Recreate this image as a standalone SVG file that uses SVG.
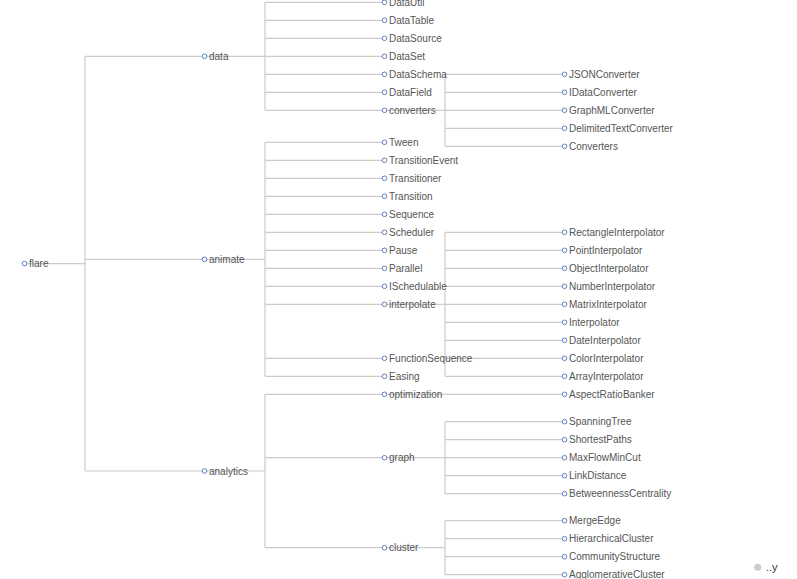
<svg xmlns="http://www.w3.org/2000/svg" width="797" height="579" viewBox="0 0 797 579">
<style>
.e{fill:none;stroke:#ccc;stroke-width:1.2}
.n circle{fill:#fff;stroke:#5b7fc7;stroke-width:1}
.n text{font-family:"Liberation Sans",Arial,sans-serif;font-size:10px;fill:#555;dominant-baseline:central}
.lg text{font-family:"Liberation Sans",Arial,sans-serif;font-size:11px;fill:#333;dominant-baseline:central}
</style>
<rect width="797" height="579" fill="#fff"/>
<g id="connectors">
<path class="e" d="M24.5 263.6H85M85 56.3V471M85 56.3H204.5M85 259.3H204.5M85 471H204.5"/>
<path class="e" d="M204.5 56.3H265M265 2.3V110.3M265 2.3H384.5M265 20.3H384.5M265 38.3H384.5M265 56.3H384.5M265 74.3H384.5M265 92.3H384.5M265 110.3H384.5"/>
<path class="e" d="M384.5 110.3H445M445 74.3V146.3M445 74.3H564.5M445 92.3H564.5M445 110.3H564.5M445 128.3H564.5M445 146.3H564.5"/>
<path class="e" d="M204.5 259.3H265M265 142.3V376.3M265 142.3H384.5M265 160.3H384.5M265 178.3H384.5M265 196.3H384.5M265 214.3H384.5M265 232.3H384.5M265 250.3H384.5M265 268.3H384.5M265 286.3H384.5M265 304.3H384.5M265 358.3H384.5M265 376.3H384.5"/>
<path class="e" d="M384.5 304.3H445M445 232.3V376.3M445 232.3H564.5M445 250.3H564.5M445 268.3H564.5M445 286.3H564.5M445 304.3H564.5M445 322.3H564.5M445 340.3H564.5M445 358.3H564.5M445 376.3H564.5"/>
<path class="e" d="M204.5 471H265M265 394.3V547.7M265 394.3H384.5M265 457.7H384.5M265 547.7H384.5"/>
<path class="e" d="M384.5 394.3H564.5"/>
<path class="e" d="M384.5 457.7H445M445 421.7V493.7M445 421.7H564.5M445 439.7H564.5M445 457.7H564.5M445 475.7H564.5M445 493.7H564.5"/>
<path class="e" d="M384.5 547.7H445M445 520.7V574.7M445 520.7H564.5M445 538.7H564.5M445 556.7H564.5M445 574.7H564.5"/>
</g>
<g id="node-flare" class="n"><circle cx="24.5" cy="263.6" r="2.3"/><text x="29" y="263.6">flare</text></g>
<g id="node-data" class="n"><circle cx="204.5" cy="56.3" r="2.3"/><text x="209" y="56.3">data</text></g>
<g id="node-animate" class="n"><circle cx="204.5" cy="259.3" r="2.3"/><text x="209" y="259.3">animate</text></g>
<g id="node-analytics" class="n"><circle cx="204.5" cy="471" r="2.3"/><text x="209" y="471">analytics</text></g>
<g id="node-DataUtil" class="n"><circle cx="384.5" cy="2.3" r="2.3"/><text x="389" y="2.3">DataUtil</text></g>
<g id="node-DataTable" class="n"><circle cx="384.5" cy="20.3" r="2.3"/><text x="389" y="20.3">DataTable</text></g>
<g id="node-DataSource" class="n"><circle cx="384.5" cy="38.3" r="2.3"/><text x="389" y="38.3">DataSource</text></g>
<g id="node-DataSet" class="n"><circle cx="384.5" cy="56.3" r="2.3"/><text x="389" y="56.3">DataSet</text></g>
<g id="node-DataSchema" class="n"><circle cx="384.5" cy="74.3" r="2.3"/><text x="389" y="74.3">DataSchema</text></g>
<g id="node-DataField" class="n"><circle cx="384.5" cy="92.3" r="2.3"/><text x="389" y="92.3">DataField</text></g>
<g id="node-converters" class="n"><circle cx="384.5" cy="110.3" r="2.3"/><text x="389" y="110.3">converters</text></g>
<g id="node-JSONConverter" class="n"><circle cx="564.5" cy="74.3" r="2.3"/><text x="569" y="74.3">JSONConverter</text></g>
<g id="node-IDataConverter" class="n"><circle cx="564.5" cy="92.3" r="2.3"/><text x="569" y="92.3">IDataConverter</text></g>
<g id="node-GraphMLConverter" class="n"><circle cx="564.5" cy="110.3" r="2.3"/><text x="569" y="110.3">GraphMLConverter</text></g>
<g id="node-DelimitedTextConverter" class="n"><circle cx="564.5" cy="128.3" r="2.3"/><text x="569" y="128.3">DelimitedTextConverter</text></g>
<g id="node-Converters" class="n"><circle cx="564.5" cy="146.3" r="2.3"/><text x="569" y="146.3">Converters</text></g>
<g id="node-Tween" class="n"><circle cx="384.5" cy="142.3" r="2.3"/><text x="389" y="142.3">Tween</text></g>
<g id="node-TransitionEvent" class="n"><circle cx="384.5" cy="160.3" r="2.3"/><text x="389" y="160.3">TransitionEvent</text></g>
<g id="node-Transitioner" class="n"><circle cx="384.5" cy="178.3" r="2.3"/><text x="389" y="178.3">Transitioner</text></g>
<g id="node-Transition" class="n"><circle cx="384.5" cy="196.3" r="2.3"/><text x="389" y="196.3">Transition</text></g>
<g id="node-Sequence" class="n"><circle cx="384.5" cy="214.3" r="2.3"/><text x="389" y="214.3">Sequence</text></g>
<g id="node-Scheduler" class="n"><circle cx="384.5" cy="232.3" r="2.3"/><text x="389" y="232.3">Scheduler</text></g>
<g id="node-Pause" class="n"><circle cx="384.5" cy="250.3" r="2.3"/><text x="389" y="250.3">Pause</text></g>
<g id="node-Parallel" class="n"><circle cx="384.5" cy="268.3" r="2.3"/><text x="389" y="268.3">Parallel</text></g>
<g id="node-ISchedulable" class="n"><circle cx="384.5" cy="286.3" r="2.3"/><text x="389" y="286.3">ISchedulable</text></g>
<g id="node-interpolate" class="n"><circle cx="384.5" cy="304.3" r="2.3"/><text x="389" y="304.3">interpolate</text></g>
<g id="node-FunctionSequence" class="n"><circle cx="384.5" cy="358.3" r="2.3"/><text x="389" y="358.3">FunctionSequence</text></g>
<g id="node-Easing" class="n"><circle cx="384.5" cy="376.3" r="2.3"/><text x="389" y="376.3">Easing</text></g>
<g id="node-RectangleInterpolator" class="n"><circle cx="564.5" cy="232.3" r="2.3"/><text x="569" y="232.3">RectangleInterpolator</text></g>
<g id="node-PointInterpolator" class="n"><circle cx="564.5" cy="250.3" r="2.3"/><text x="569" y="250.3">PointInterpolator</text></g>
<g id="node-ObjectInterpolator" class="n"><circle cx="564.5" cy="268.3" r="2.3"/><text x="569" y="268.3">ObjectInterpolator</text></g>
<g id="node-NumberInterpolator" class="n"><circle cx="564.5" cy="286.3" r="2.3"/><text x="569" y="286.3">NumberInterpolator</text></g>
<g id="node-MatrixInterpolator" class="n"><circle cx="564.5" cy="304.3" r="2.3"/><text x="569" y="304.3">MatrixInterpolator</text></g>
<g id="node-Interpolator" class="n"><circle cx="564.5" cy="322.3" r="2.3"/><text x="569" y="322.3">Interpolator</text></g>
<g id="node-DateInterpolator" class="n"><circle cx="564.5" cy="340.3" r="2.3"/><text x="569" y="340.3">DateInterpolator</text></g>
<g id="node-ColorInterpolator" class="n"><circle cx="564.5" cy="358.3" r="2.3"/><text x="569" y="358.3">ColorInterpolator</text></g>
<g id="node-ArrayInterpolator" class="n"><circle cx="564.5" cy="376.3" r="2.3"/><text x="569" y="376.3">ArrayInterpolator</text></g>
<g id="node-optimization" class="n"><circle cx="384.5" cy="394.3" r="2.3"/><text x="389" y="394.3">optimization</text></g>
<g id="node-graph" class="n"><circle cx="384.5" cy="457.7" r="2.3"/><text x="389" y="457.7">graph</text></g>
<g id="node-cluster" class="n"><circle cx="384.5" cy="547.7" r="2.3"/><text x="389" y="547.7">cluster</text></g>
<g id="node-AspectRatioBanker" class="n"><circle cx="564.5" cy="394.3" r="2.3"/><text x="569" y="394.3">AspectRatioBanker</text></g>
<g id="node-SpanningTree" class="n"><circle cx="564.5" cy="421.7" r="2.3"/><text x="569" y="421.7">SpanningTree</text></g>
<g id="node-ShortestPaths" class="n"><circle cx="564.5" cy="439.7" r="2.3"/><text x="569" y="439.7">ShortestPaths</text></g>
<g id="node-MaxFlowMinCut" class="n"><circle cx="564.5" cy="457.7" r="2.3"/><text x="569" y="457.7">MaxFlowMinCut</text></g>
<g id="node-LinkDistance" class="n"><circle cx="564.5" cy="475.7" r="2.3"/><text x="569" y="475.7">LinkDistance</text></g>
<g id="node-BetweennessCentrality" class="n"><circle cx="564.5" cy="493.7" r="2.3"/><text x="569" y="493.7">BetweennessCentrality</text></g>
<g id="node-MergeEdge" class="n"><circle cx="564.5" cy="520.7" r="2.3"/><text x="569" y="520.7">MergeEdge</text></g>
<g id="node-HierarchicalCluster" class="n"><circle cx="564.5" cy="538.7" r="2.3"/><text x="569" y="538.7">HierarchicalCluster</text></g>
<g id="node-CommunityStructure" class="n"><circle cx="564.5" cy="556.7" r="2.3"/><text x="569" y="556.7">CommunityStructure</text></g>
<g id="node-AgglomerativeCluster" class="n"><circle cx="564.5" cy="574.7" r="2.3"/><text x="569" y="574.7">AgglomerativeCluster</text></g>
<g id="legend" class="lg"><circle cx="757.7" cy="567.3" r="3.5" fill="#ccc"/><text x="766" y="567.3">..y</text></g>
</svg>
